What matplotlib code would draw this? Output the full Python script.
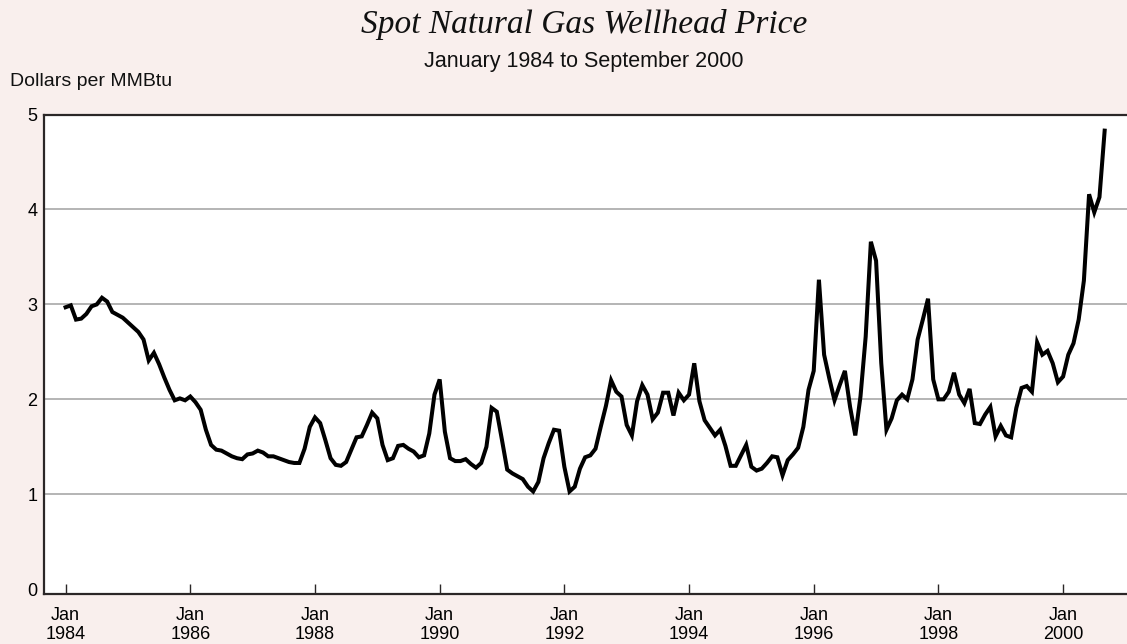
import matplotlib
matplotlib.use("Agg")
import matplotlib.pyplot as plt
import numpy as np

# monthly spot wellhead price, dollars per MMBtu, Jan 1984 .. Sep 2000
prices_1984 = [2.97, 2.99, 2.84, 2.85, 2.90, 2.98, 3.00, 3.07, 3.03, 2.92, 2.89, 2.86]
prices_1985 = [2.81, 2.76, 2.71, 2.63, 2.41, 2.49, 2.37, 2.23, 2.10, 1.99, 2.01, 1.99]
prices_1986 = [2.03, 1.97, 1.89, 1.68, 1.52, 1.47, 1.46, 1.43, 1.40, 1.38, 1.37, 1.42]
prices_1987 = [1.43, 1.46, 1.44, 1.40, 1.40, 1.38, 1.36, 1.34, 1.33, 1.33, 1.48, 1.71]
prices_1988 = [1.81, 1.75, 1.57, 1.38, 1.31, 1.30, 1.34, 1.47, 1.60, 1.61, 1.73, 1.86]
prices_1989 = [1.80, 1.52, 1.36, 1.38, 1.51, 1.52, 1.48, 1.45, 1.39, 1.41, 1.64, 2.05]
prices_1990 = [2.21, 1.66, 1.38, 1.35, 1.35, 1.37, 1.32, 1.28, 1.33, 1.50, 1.91, 1.87]
prices_1991 = [1.57, 1.26, 1.22, 1.19, 1.16, 1.08, 1.03, 1.13, 1.38, 1.54, 1.68, 1.67]
prices_1992 = [1.29, 1.03, 1.08, 1.27, 1.39, 1.41, 1.48, 1.71, 1.93, 2.20, 2.08, 2.03]
prices_1993 = [1.73, 1.62, 1.98, 2.15, 2.05, 1.79, 1.86, 2.07, 2.07, 1.83, 2.07, 1.99]
prices_1994 = [2.05, 2.38, 1.98, 1.78, 1.70, 1.62, 1.68, 1.51, 1.30, 1.30, 1.41, 1.52]
prices_1995 = [1.29, 1.25, 1.27, 1.33, 1.40, 1.39, 1.20, 1.36, 1.42, 1.49, 1.71, 2.10]
prices_1996 = [2.30, 3.26, 2.47, 2.22, 1.99, 2.15, 2.30, 1.92, 1.62, 2.03, 2.66, 3.66]
prices_1997 = [3.46, 2.38, 1.68, 1.80, 1.99, 2.05, 2.00, 2.21, 2.63, 2.84, 3.06, 2.21]
prices_1998 = [2.00, 2.00, 2.08, 2.28, 2.05, 1.96, 2.11, 1.75, 1.74, 1.84, 1.92, 1.61]
prices_1999 = [1.72, 1.62, 1.60, 1.91, 2.12, 2.14, 2.08, 2.60, 2.47, 2.51, 2.38, 2.18]
prices_2000 = [2.24, 2.47, 2.59, 2.84, 3.25, 4.16, 3.97, 4.13, 4.83]

tick_years = [1984, 1986, 1988, 1990, 1992, 1994, 1996, 1998, 2000]
y_ticks = [0, 1, 2, 3, 4, 5]

prices = np.array(
    prices_1984 + prices_1985 + prices_1986 + prices_1987 + prices_1988
    + prices_1989 + prices_1990 + prices_1991 + prices_1992 + prices_1993
    + prices_1994 + prices_1995 + prices_1996 + prices_1997 + prices_1998
    + prices_1999 + prices_2000
)
months = np.arange(len(prices))  # months since Jan 1984

BG = "#f9efed"
SPINE = "#2b2727"

fig = plt.figure(figsize=(11.27, 6.44), dpi=100, facecolor=BG)
ax = fig.add_axes([44.3 / 1127, 1 - 594 / 644, 1 - 44.3 / 1127, (594 - 114.5) / 644])
ax.set_facecolor("white")

ax.plot(months, prices, color="black", linewidth=2.9, solid_joinstyle="miter", zorder=3)

ax.set_xlim(-4.1, 204.3)
ax.set_ylim(-0.05, 5.0)

for v in y_ticks[1:-1]:
    ax.axhline(v, color="#a8a8a8", linewidth=1.2, zorder=1)

ax.set_yticks(y_ticks)
ax.set_yticklabels([str(v) for v in y_ticks])
ax.set_xticks([(y - 1984) * 12 for y in tick_years])
ax.set_xticklabels([f"Jan\n{y}" for y in tick_years])

ax.tick_params(axis="y", length=0, pad=5, labelsize=13, labelfontfamily="Liberation Sans")
ax.tick_params(axis="x", direction="in", length=7, width=1.0, color=SPINE, pad=9,
               labelsize=13, labelfontfamily="Liberation Sans")

for side in ["left", "top", "bottom"]:
    ax.spines[side].set_color(SPINE)
    ax.spines[side].set_linewidth(1.6)
ax.spines["right"].set_visible(False)

fig.text(0.518, 1 - 24 / 644, "Spot Natural Gas Wellhead Price", ha="center", va="center",
         fontsize=24, style="italic", family="Liberation Serif", color="#111111")
fig.text(0.518, 1 - 62 / 644, "January 1984 to September 2000", ha="center", va="center",
         fontsize=15.5, family="Liberation Sans", color="#111111")
fig.text(10 / 1127, 1 - 82 / 644, "Dollars per MMBtu", ha="left", va="center",
         fontsize=14, family="Liberation Sans", color="#111111")

fig.savefig("out.png", dpi=100, facecolor=BG)
